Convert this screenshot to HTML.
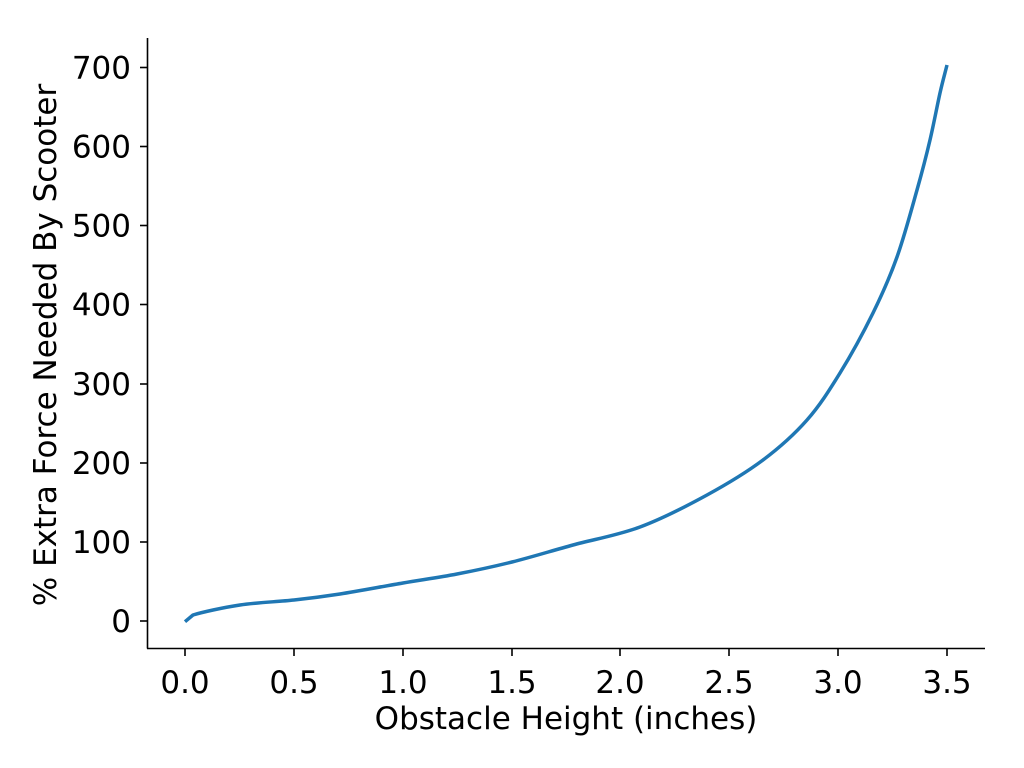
<!DOCTYPE html>
<html><head><style>body{margin:0;background:#fff}svg{display:block}text{font-family:"DejaVu Sans","Liberation Sans",sans-serif;fill:#000}</style></head>
<body>
<svg width="1024" height="768" viewBox="0 0 1024 768">
<g stroke="#000" stroke-width="1.6" fill="none">
<line x1="147.5" y1="38" x2="147.5" y2="648.5"/>
<line x1="147" y1="648.5" x2="985" y2="648.5"/>
<g>
<line x1="140" y1="621" x2="147" y2="621"/><line x1="140" y1="542" x2="147" y2="542"/><line x1="140" y1="463" x2="147" y2="463"/><line x1="140" y1="384" x2="147" y2="384"/><line x1="140" y1="304.5" x2="147" y2="304.5"/><line x1="140" y1="225.5" x2="147" y2="225.5"/><line x1="140" y1="146.5" x2="147" y2="146.5"/><line x1="140" y1="67.5" x2="147" y2="67.5"/>
<line x1="185" y1="649" x2="185" y2="656"/><line x1="294" y1="649" x2="294" y2="656"/><line x1="403" y1="649" x2="403" y2="656"/><line x1="512" y1="649" x2="512" y2="656"/><line x1="620" y1="649" x2="620" y2="656"/><line x1="729" y1="649" x2="729" y2="656"/><line x1="838" y1="649" x2="838" y2="656"/><line x1="947" y1="649" x2="947" y2="656"/>
</g></g>
<g font-size="31" text-anchor="end">
<text x="131" y="632">0</text><text x="131" y="553">100</text><text x="131" y="474">200</text><text x="131" y="395">300</text><text x="131" y="315.5">400</text><text x="131" y="236.5">500</text><text x="131" y="157.5">600</text><text x="131" y="78.5">700</text>
</g>
<g font-size="31" text-anchor="middle">
<text x="185" y="693">0.0</text><text x="294" y="693">0.5</text><text x="403" y="693">1.0</text><text x="512" y="693">1.5</text><text x="620" y="693">2.0</text><text x="729" y="693">2.5</text><text x="838" y="693">3.0</text><text x="947" y="693">3.5</text>
<text x="566" y="729">Obstacle Height (inches)</text>
<text transform="translate(56,345) rotate(-90)">% Extra Force Needed By Scooter</text>
</g>
<path fill="none" stroke="#1f77b4" stroke-width="3.5" stroke-linejoin="round" d="M185,621.7 L193,615 C202.2,612.2 223.2,607.5 240,605 C256.8,602.5 277.3,601.8 294,600 C310.7,598.2 321.8,596.8 340,594 C358.2,591.2 383.5,586.3 403,583 C422.5,579.7 438.8,577.5 457,574 C475.2,570.5 492.7,566.8 512,562 C531.3,557.2 551.7,550.8 573,545 C594.3,539.2 617.7,535.3 640,527 C662.3,518.7 686.5,506.2 707,495 C727.5,483.8 746.3,472.5 763,460 C779.7,447.5 794.2,434.5 807,420 C819.8,405.5 829,390.8 840,373 C851,355.2 863.5,332.3 873,313 C882.5,293.7 889.7,277.5 897,257 C904.3,236.5 911.5,209.5 917,190 C922.5,170.5 926.2,156.2 930,140 C933.8,123.8 937.2,105.5 940,93 C942.8,80.5 944.7,74.3 947,65"/>
</svg>
</body></html>
